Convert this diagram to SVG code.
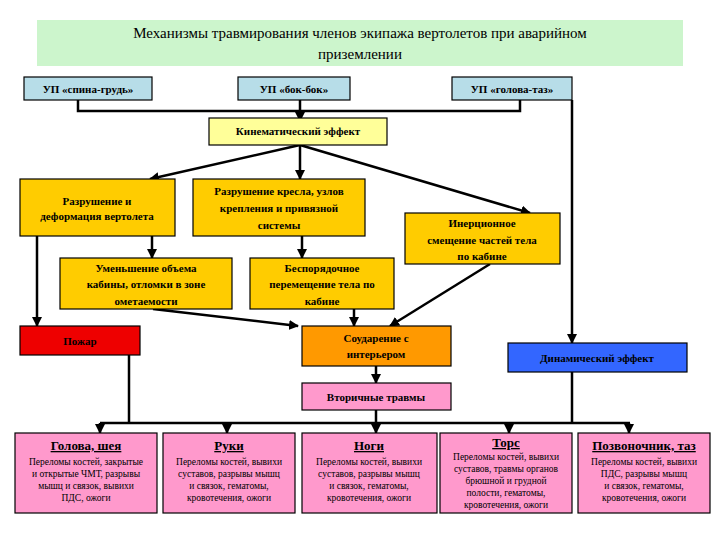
<svg xmlns="http://www.w3.org/2000/svg" width="720" height="540" viewBox="0 0 720 540">
<defs>
<marker id="ar" viewBox="0 0 10 10" refX="9" refY="5" markerWidth="4" markerHeight="4" orient="auto"><path d="M0,0 L10,5 L0,10 z" fill="#000"/></marker>
<style>
text{font-family:"Liberation Serif",serif;font-weight:bold;fill:#000;text-anchor:middle}
.b{stroke:#000;stroke-width:1.2}
.t{font-size:11px}
.h{font-size:13px;text-decoration:underline}
.s{font-size:9.5px;font-weight:normal}
.c{fill:none;stroke:#000;stroke-width:2.5}
.a{fill:none;stroke:#000;stroke-width:2.5;marker-end:url(#ar)}
</style>
</defs>
<rect width="720" height="540" fill="#fff"/>
<g id="title"><rect x="37" y="20" width="646" height="46" fill="#ccf5cc"/>
<text x="360" y="38" style="font-size:15px;font-weight:normal">Механизмы травмирования членов экипажа  вертолетов при аварийном</text>
<text x="360" y="59" style="font-size:15px;font-weight:normal">приземлении</text></g>
<g id="connectors">
<polyline class="c" points="78,100 78,111 520,111 520,100"/>
<line class="a" x1="300" y1="100" x2="300" y2="121"/>
<line class="a" x1="300" y1="145" x2="150" y2="179"/>
<line class="a" x1="300" y1="145" x2="300" y2="179"/>
<line class="a" x1="300" y1="145" x2="530" y2="213"/>
<line class="a" x1="572" y1="100" x2="572" y2="343"/>
<line class="a" x1="37" y1="236" x2="37" y2="326"/>
<line class="a" x1="152" y1="236" x2="152" y2="258"/>
<line class="a" x1="302" y1="236" x2="302" y2="258"/>
<line class="a" x1="153" y1="309" x2="298" y2="326"/>
<line class="a" x1="354" y1="309" x2="354" y2="326"/>
<line class="a" x1="490" y1="264" x2="390" y2="326"/>
<line class="a" x1="376" y1="366" x2="376" y2="383"/>
<line class="c" x1="129" y1="355" x2="129" y2="423"/>
<line class="c" x1="572" y1="372" x2="572" y2="423"/>
<line class="c" x1="376" y1="410" x2="376" y2="423"/>
<line class="c" x1="100" y1="423" x2="630" y2="423"/>
<line class="a" x1="100" y1="423" x2="100" y2="433"/>
<line class="a" x1="227" y1="423" x2="227" y2="433"/>
<line class="a" x1="376" y1="423" x2="376" y2="433"/>
<line class="a" x1="509" y1="423" x2="509" y2="433"/>
<line class="a" x1="629" y1="423" x2="629" y2="433"/>
</g>
<g id="up1"><rect class="b" x="24" y="77" width="128" height="23" fill="#b7dde8"/><text class="t" x="88" y="93">УП «спина-грудь»</text></g>
<g id="up2"><rect class="b" x="238" y="77" width="112" height="23" fill="#b7dde8"/><text class="t" x="294" y="93">УП «бок-бок»</text></g>
<g id="up3"><rect class="b" x="452" y="77" width="120" height="23" fill="#b7dde8"/><text class="t" x="512" y="93">УП «голова-таз»</text></g>
<g id="kin"><rect class="b" x="209" y="118" width="178" height="27" fill="#ffff99"/><text class="t" x="298" y="135">Кинематический эффект</text></g>
<g id="n1"><rect class="b" x="20" y="179" width="155" height="57" fill="#ffcc00"/><text class="t" x="97" y="205">Разрушение и</text><text class="t" x="97" y="220">деформация вертолета</text></g>
<g id="n2"><rect class="b" x="193" y="179" width="172" height="57" fill="#ffcc00"/><text class="t" x="279" y="195">Разрушение кресла, узлов</text><text class="t" x="279" y="212">крепления и привязной</text><text class="t" x="279" y="229">системы</text></g>
<g id="n3"><rect class="b" x="405" y="213" width="155" height="51" fill="#ffcc00"/><text class="t" x="482" y="227">Инерционное</text><text class="t" x="482" y="244">смещение частей тела</text><text class="t" x="482" y="260">по кабине</text></g>
<g id="n4"><rect class="b" x="60" y="258" width="172" height="51" fill="#ffcc00"/><text class="t" x="146" y="272">Уменьшение объема</text><text class="t" x="146" y="288">кабины, отломки в зоне</text><text class="t" x="146" y="305">ометаемости</text></g>
<g id="n5"><rect class="b" x="250" y="258" width="144" height="51" fill="#ffcc00"/><text class="t" x="322" y="272">Беспорядочное</text><text class="t" x="322" y="288">перемещение тела по</text><text class="t" x="322" y="305">кабине</text></g>
<g id="fire"><rect class="b" x="20" y="326" width="120" height="29" fill="#ee0000"/><text class="t" x="80" y="345">Пожар</text></g>
<g id="hit"><rect class="b" x="302" y="326" width="149" height="40" fill="#ff9900"/><text class="t" x="376" y="342">Соударение с</text><text class="t" x="376" y="358">интерьером</text></g>
<g id="dyn"><rect class="b" x="508" y="343" width="179" height="29" fill="#3366ff"/><text class="t" x="597" y="362">Динамический эффект</text></g>
<g id="sec"><rect class="b" x="302" y="383" width="149" height="27" fill="#ff99cc"/><text class="t" x="376" y="401">Вторичные травмы</text></g>
<g id="b1"><rect class="b" x="15" y="433" width="142" height="80" fill="#ff99cc"/><text class="h" x="86" y="450">Голова, шея</text><text class="s" x="86" y="465">Переломы костей, закрытые</text><text class="s" x="86" y="477">и открытые ЧМТ, разрывы</text><text class="s" x="86" y="489">мышц и связок, вывихи</text><text class="s" x="86" y="501">ПДС, ожоги</text></g>
<g id="b2"><rect class="b" x="163" y="433" width="132" height="80" fill="#ff99cc"/><text class="h" x="229" y="450">Руки</text><text class="s" x="229" y="465">Переломы костей, вывихи</text><text class="s" x="229" y="477">суставов,  разрывы мышц</text><text class="s" x="229" y="489">и связок, гематомы,</text><text class="s" x="229" y="501">кровотечения, ожоги</text></g>
<g id="b3"><rect class="b" x="302" y="433" width="135" height="80" fill="#ff99cc"/><text class="h" x="369" y="450">Ноги</text><text class="s" x="369" y="465">Переломы костей, вывихи</text><text class="s" x="369" y="477">суставов,  разрывы мышц</text><text class="s" x="369" y="489">и связок, гематомы,</text><text class="s" x="369" y="501">кровотечения, ожоги</text></g>
<g id="b4"><rect class="b" x="440" y="433" width="132" height="80" fill="#ff99cc"/><text class="h" x="506" y="447">Торс</text><text class="s" x="506" y="460">Переломы костей, вывихи</text><text class="s" x="506" y="472">суставов,  травмы органов</text><text class="s" x="506" y="484">брюшной и грудной</text><text class="s" x="506" y="496">полости, гематомы,</text><text class="s" x="506" y="508">кровотечения, ожоги</text></g>
<g id="b5"><rect class="b" x="578" y="433" width="132" height="80" fill="#ff99cc"/><text class="h" x="644" y="450">Позвоночник, таз</text><text class="s" x="644" y="465">Переломы костей, вывихи</text><text class="s" x="644" y="477">ПДС, разрывы мышц</text><text class="s" x="644" y="489">и связок, гематомы,</text><text class="s" x="644" y="501">кровотечения, ожоги</text></g>
</svg>
